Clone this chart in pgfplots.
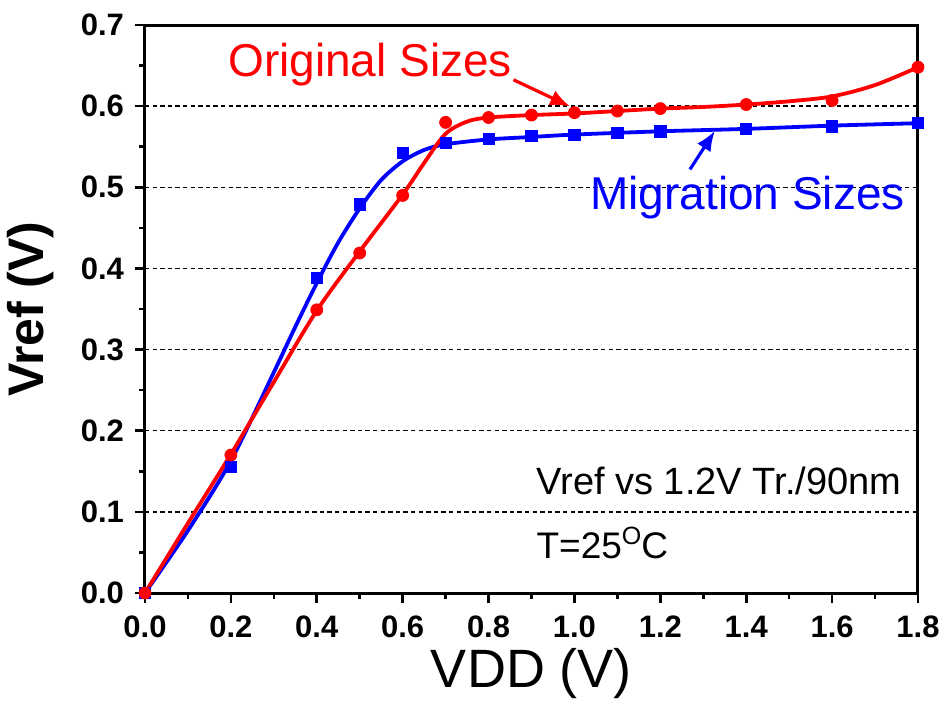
\documentclass[border=0pt]{standalone}
\usepackage{fontspec}
\setmainfont{Liberation Sans}
\usepackage{pgfplots}
\pgfplotsset{compat=1.18}
\usetikzlibrary{arrows.meta}

\definecolor{origred}{RGB}{255,0,0}
\definecolor{migblue}{RGB}{0,0,255}

\begin{document}
\begin{tikzpicture}
\begin{axis}[
  scale only axis,
  width=386.5pt, height=284pt,
  xmin=0, xmax=1.8, ymin=0, ymax=0.7,
  xtick={0,0.2,...,1.8},
  ytick={0,0.1,...,0.7},
  minor x tick num=1, minor y tick num=1,
  tick pos=left, tick align=outside,
  major tick length=5pt, minor tick length=3pt,
  every tick/.style={black, line width=1.3pt},
  axis line style={line width=1.5pt},
  ymajorgrids,
  grid style={black, line width=0.75pt, dash pattern=on 2.2pt off 1.6pt},
  /pgf/number format/assume math mode=true,
  /pgf/number format/.cd, fixed, fixed zerofill, precision=1,
  /pgfplots/.cd,
  ticklabel style={font=\fontsize{15.5}{18}\selectfont\bfseries},
  xticklabel style={yshift=-3pt},
  yticklabel style={xshift=-2pt},
  xlabel={VDD (V)},
  ylabel={Vref (V)},
  xlabel style={font=\fontsize{27}{32}\selectfont, at={(axis description cs:0.5,-0.167)}, anchor=base},
  ylabel style={font=\fontsize{25}{30}\selectfont\bfseries, at={(axis description cs:-0.148,0.5)}, anchor=center},
  clip=false,
]
% fitted curves
\addplot[migblue, line width=1.9pt, smooth, tension=0.5] coordinates {
  (0,0) (0.1,0.077) (0.2,0.163) (0.3,0.272) (0.35,0.328) (0.4,0.382)
  (0.45,0.432) (0.5,0.474) (0.55,0.509) (0.6,0.532) (0.65,0.546)
  (0.7,0.553) (0.8,0.559) (0.9,0.562) (1.0,0.565) (1.2,0.569)
  (1.4,0.572) (1.6,0.576) (1.8,0.579)
};
\addplot[origred, line width=1.9pt, smooth, tension=0.5] coordinates {
  (0,0) (0.1,0.086) (0.2,0.171) (0.3,0.260) (0.4,0.348) (0.5,0.421)
  (0.6,0.491) (0.65,0.530) (0.7,0.566) (0.75,0.581) (0.8,0.586)
  (0.9,0.589) (1.0,0.591) (1.1,0.594) (1.2,0.597) (1.3,0.599)
  (1.4,0.602) (1.5,0.606) (1.6,0.612) (1.7,0.626) (1.8,0.648)
};
% measured points
\addplot[only marks, mark=square*, mark size=2.8pt, color=migblue] coordinates {
  (0,0) (0.2,0.155) (0.4,0.388) (0.5,0.479) (0.6,0.542) (0.7,0.555)
  (0.8,0.560) (0.9,0.563) (1.0,0.565) (1.1,0.567) (1.2,0.569)
  (1.4,0.572) (1.6,0.575) (1.8,0.579)
};
\addplot[only marks, mark=*, mark size=3pt, color=origred] coordinates {
  (0,0) (0.2,0.170) (0.4,0.349) (0.5,0.419) (0.6,0.490) (0.7,0.580)
  (0.8,0.586) (0.9,0.589) (1.0,0.592) (1.1,0.594) (1.2,0.597)
  (1.4,0.602) (1.6,0.607) (1.8,0.648)
};
% annotations
\node[anchor=base west, inner sep=0pt, text=origred, font=\fontsize{23}{27}\selectfont]
  at (axis cs:0.193,0.637) {Original Sizes};
\draw[origred, line width=1.6pt, -{Latex[length=10pt,width=8pt]}]
  (axis cs:0.858,0.6325) -- (axis cs:0.990,0.5996);
\node[anchor=base west, inner sep=0pt, text=migblue, font=\fontsize{23}{27}\selectfont]
  at (axis cs:1.036,0.473) {Migration Sizes};
\draw[migblue, line width=1.6pt, -{Latex[length=10pt,width=8pt]}]
  (axis cs:1.269,0.522) -- (axis cs:1.327,0.5695);
\node[anchor=base west, inner sep=0pt, font=\fontsize{19}{23}\selectfont]
  at (axis cs:0.911,0.121) {Vref vs 1.2V Tr./90nm};
\node[anchor=base west, inner sep=0pt, font=\fontsize{18.5}{22}\selectfont]
  at (axis cs:0.911,0.043) {T=25\raisebox{7pt}{\fontsize{12.5}{14}\selectfont O}C};
\end{axis}
\pgfresetboundingbox
\path[use as bounding box] (-72.5pt,-60pt) rectangle (399.5pt,296.5pt);
\end{tikzpicture}
\end{document}
